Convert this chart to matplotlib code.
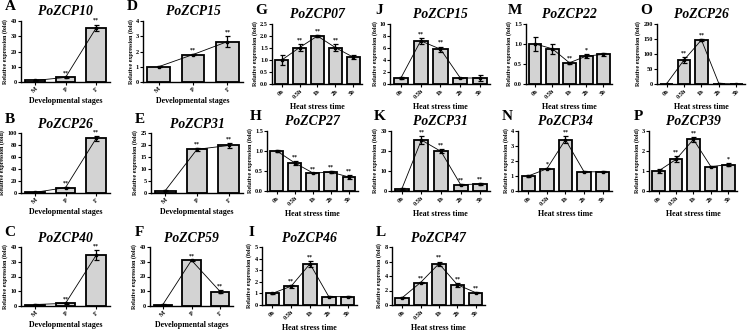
import matplotlib
matplotlib.use("Agg")
import matplotlib.pyplot as plt
import numpy as np

plt.rcParams['font.family'] = ['Liberation Serif', 'DejaVu Serif']
plt.rcParams['font.weight'] = 'bold'

# ---------------- data ----------------
dev_stages = ["M", "P", "F"]
heat_times = ["0h", "0.5h", "1h", "2h", "3h"]

A_gene = "PoZCP10"; A_mean = [1.0, 3.0, 35.5]; A_err = [0.1, 0.3, 2.2]; A_sig = ["", "**", "**"]
B_gene = "PoZCP26"; B_mean = [1.0, 9.0, 91.0]; B_err = [0.1, 0.8, 4.0]; B_sig = ["", "**", "**"]
C_gene = "PoZCP40"; C_mean = [1.0, 1.8, 34.5]; C_err = [0.1, 0.2, 3.5]; C_sig = ["", "**", "**"]
D_gene = "PoZCP15"; D_mean = [1.0, 1.8, 2.65]; D_err = [0.03, 0.05, 0.35]; D_sig = ["", "**", "**"]
E_gene = "PoZCP31"; E_mean = [1.0, 18.2, 19.8]; E_err = [0.1, 0.5, 1.2]; E_sig = ["", "**", "**"]
F_gene = "PoZCP59"; F_mean = [1.0, 31.0, 9.8]; F_err = [0.1, 0.4, 1.0]; F_sig = ["", "**", "**"]

G_gene = "PoZCP07"; G_mean = [1.0, 1.52, 2.0, 1.52, 1.12]; G_err = [0.2, 0.15, 0.05, 0.15, 0.07]; G_sig = ["", "**", "**", "**", ""]
H_gene = "PoZCP27"; H_mean = [1.0, 0.70, 0.45, 0.47, 0.35]; H_err = [0.03, 0.04, 0.01, 0.03, 0.06]; H_sig = ["", "**", "**", "**", "**"]
I_gene = "PoZCP46"; I_mean = [1.0, 1.62, 3.55, 0.72, 0.72]; I_err = [0.05, 0.12, 0.25, 0.03, 0.03]; I_sig = ["", "**", "**", "", ""]
J_gene = "PoZCP15"; J_mean = [1.0, 7.2, 5.8, 1.0, 1.0]; J_err = [0.1, 0.5, 0.45, 0.05, 0.5]; J_sig = ["", "**", "**", "", ""]
K_gene = "PoZCP31"; K_mean = [1.0, 25.5, 19.8, 3.2, 3.5]; K_err = [0.4, 2.0, 1.0, 0.2, 0.3]; K_sig = ["", "**", "**", "**", "**"]
L_gene = "PoZCP47"; L_mean = [1.0, 3.1, 5.7, 2.8, 1.7]; L_err = [0.05, 0.08, 0.3, 0.25, 0.1]; L_sig = ["", "**", "**", "**", "**"]
M_gene = "PoZCP22"; M_mean = [1.0, 0.88, 0.53, 0.70, 0.74]; M_err = [0.17, 0.12, 0.02, 0.04, 0.03]; M_sig = ["", "", "**", "*", ""]
N_gene = "PoZCP34"; N_mean = [1.0, 1.48, 3.42, 1.28, 1.28]; N_err = [0.08, 0.04, 0.25, 0.03, 0.03]; N_sig = ["", "*", "**", "", ""]
O_gene = "PoZCP26"; O_mean = [1.0, 80.0, 147.0, 1.5, 0.5]; O_err = [0.0, 10.0, 3.0, 0.5, 0.2]; O_sig = ["", "**", "**", "", ""]
P_gene = "PoZCP39"; P_mean = [1.0, 1.58, 2.58, 1.22, 1.32]; P_err = [0.12, 0.15, 0.12, 0.02, 0.08]; P_sig = ["", "**", "**", "", "*"]

# y-axis ranges (max, step, decimals)
A_y = (40, 10, 0); B_y = (100, 20, 0); C_y = (40, 10, 0)
D_y = (4, 1, 0); E_y = (25, 5, 0); F_y = (40, 10, 0)
G_y = (2.5, 0.5, 1); H_y = (1.5, 0.5, 1); I_y = (5, 1, 0)
J_y = (10, 2, 0); K_y = (30, 10, 0); L_y = (8, 2, 0)
M_y = (1.5, 0.5, 1); N_y = (4, 1, 0); O_y = (200, 50, 0); P_y = (3, 1, 0)

# ---------------- layout (pixel boxes: x0, x1, ytop, ybot) ----------------
W, H = 747, 333
fig = plt.figure(figsize=(W / 100, H / 100), dpi=100)

panels = [
    ("A", A_gene, dev_stages, A_mean, A_err, A_sig, A_y, (21, 110, 21, 82)),
    ("B", B_gene, dev_stages, B_mean, B_err, B_sig, B_y, (21, 110, 133, 193)),
    ("C", C_gene, dev_stages, C_mean, C_err, C_sig, C_y, (21, 110, 247, 306)),
    ("D", D_gene, dev_stages, D_mean, D_err, D_sig, D_y, (143, 243, 21, 82)),
    ("E", E_gene, dev_stages, E_mean, E_err, E_sig, E_y, (151, 243, 133, 193)),
    ("F", F_gene, dev_stages, F_mean, F_err, F_sig, F_y, (150, 233, 247, 306)),
    ("G", G_gene, heat_times, G_mean, G_err, G_sig, G_y, (272, 362, 24, 84)),
    ("H", H_gene, heat_times, H_mean, H_err, H_sig, H_y, (267, 358, 131, 191)),
    ("I", I_gene, heat_times, I_mean, I_err, I_sig, I_y, (262, 357, 247, 305)),
    ("J", J_gene, heat_times, J_mean, J_err, J_sig, J_y, (390, 490, 24, 84)),
    ("K", K_gene, heat_times, K_mean, K_err, K_sig, K_y, (391, 490, 131, 191)),
    ("L", L_gene, heat_times, L_mean, L_err, L_sig, L_y, (392, 485, 247, 305)),
    ("M", M_gene, heat_times, M_mean, M_err, M_sig, M_y, (526, 612, 24, 84)),
    ("N", N_gene, heat_times, N_mean, N_err, N_sig, N_y, (518, 612, 131, 191)),
    ("O", O_gene, heat_times, O_mean, O_err, O_sig, O_y, (657, 745, 24, 84)),
    ("P", P_gene, heat_times, P_mean, P_err, P_sig, P_y, (649, 737, 131, 191)),
]

for letter, gene, cats, mean, err, sig, yspec, box in panels:
    x0, x1, yt, yb = box
    ax = fig.add_axes([x0 / W, 1 - yb / H, (x1 - x0) / W, (yb - yt) / H])
    n = len(cats)
    x = np.arange(n)
    dev = n == 3
    bw = 0.65 if dev else 0.72
    ax.bar(x, mean, width=bw, color="#d3d3d3", edgecolor="black", linewidth=1.3, zorder=2)
    ax.errorbar(x, mean, yerr=err, fmt="none", ecolor="black", elinewidth=0.9,
                capsize=1.8, capthick=0.9, zorder=4)
    ax.plot(x, mean, color="black", linewidth=0.6, marker="s", markersize=1.8, zorder=3)
    ymax, step, dec = yspec
    for xi, m, e, s in zip(x, mean, err, sig):
        if s:
            ax.text(xi, m + e + ymax * 0.025, s, ha="center", va="bottom", fontsize=4.2,
                    fontweight="bold")
    ax.set_ylim(0, ymax)
    ticks = np.arange(0, ymax + step / 2, step)
    ax.set_yticks(ticks)
    ax.set_yticklabels([f"{t:.{dec}f}" for t in ticks], fontsize=4.5, fontweight="bold")
    ax.set_xlim(-0.45, 2.45) if dev else ax.set_xlim(-0.55, 4.5)
    ax.set_xticks(x)
    ax.set_xticklabels(cats, rotation=45, ha="right", rotation_mode="anchor",
                       fontsize=4.5, fontweight="bold")
    for sp in ["top", "right"]:
        ax.spines[sp].set_visible(False)
    for sp in ["left", "bottom"]:
        ax.spines[sp].set_linewidth(1.0)
    ax.tick_params(axis="both", length=2, width=0.8, pad=1)
    ax.set_ylabel("Relative expression (fold)", fontsize=4.3, fontweight="bold", labelpad=1.5)
    ax.set_xlabel("Developmental stages" if dev else "Heat stress time",
                  fontsize=5.8, fontweight="bold", labelpad=2)
    ax.text(0.5, 1.15, gene, transform=ax.transAxes, ha="center", va="center",
            fontsize=9.8, fontweight="bold", style="italic")
    fig.text((x0 - 11) / W, 1 - (yt - 14) / H, letter, ha="center", va="center",
             fontsize=11, fontweight="bold")

fig.savefig("out.png", dpi=100)
